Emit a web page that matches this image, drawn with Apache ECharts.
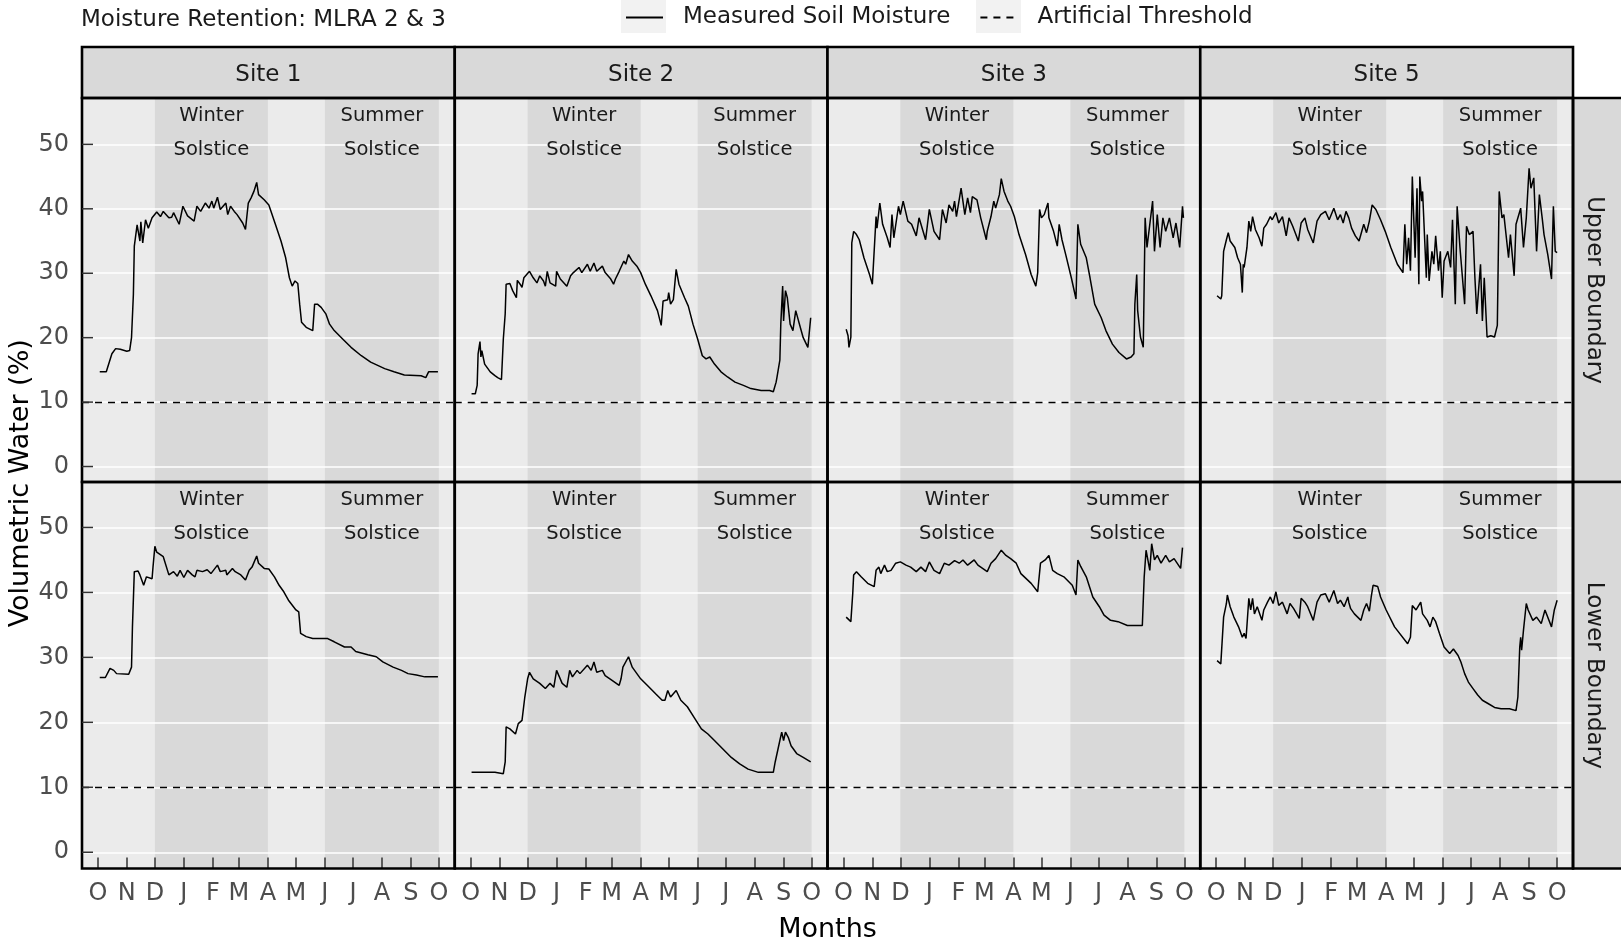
<!DOCTYPE html>
<html>
<head>
<meta charset="utf-8">
<title>Moisture Retention: MLRA 2 & 3</title>
<script src="https://cdn.jsdelivr.net/npm/echarts@6/dist/echarts.min.js"></script>
<style>
  html, body { margin: 0; padding: 0; background: #ffffff; }
  #chart { width: 1621px; height: 943px; }
</style>
</head>
<body>
<div id="chart"></div>
<script>
// Water-year day index: day 0 = 1 October, day 365 = 1 October of the next year
const monthStarts  = [0, 31, 61, 92, 123, 151, 182, 212, 243, 273, 304, 335, 365];
const monthLetters = ['O', 'N', 'D', 'J', 'F', 'M', 'A', 'M', 'J', 'J', 'A', 'S', 'O'];
const yTicks = [0, 10, 20, 30, 40, 50];
const threshold = 10;                 // artificial threshold, volumetric water %
const winterBand = [61, 182];         // 1 Dec – 1 Apr
const summerBand = [243, 365];        // 1 Jun – 1 Oct
const sites  = ['Site 1', 'Site 2', 'Site 3', 'Site 5'];
const depths = ['Upper Boundary', 'Lower Boundary'];

// Measured soil moisture, [day, volumetric water %]
const site1Upper = [[2,14.7],[9,14.7],[15,17.5],[19,18.3],[24,18.2],[31,17.9],[33,17.7],[34,18.0],[36,20.0],[38,26.7],[39,34.2],[42,37.5],[45,35.0],[46,38.0],[48,34.7],[51,38.3],[54,37.0],[58,38.6],[63,39.5],[67,38.8],[70,39.6],[76,38.6],[79,38.7],[81,39.4],[87,37.6],[91,40.4],[96,38.9],[103,38.1],[106,40.4],[110,39.6],[115,40.9],[119,40.1],[122,41.2],[124,40.1],[128,41.8],[131,39.9],[137,40.9],[139,39.1],[142,40.4],[146,39.6],[149,39.1],[155,37.8],[158,36.8],[160,36.5],[161,40.9],[164,41.7],[167,42.7],[170,44.1],[172,42.2],[178,41.4],[183,40.6],[185,40.4],[190,37.6],[196,35.0],[201,32.4],[205,29.3],[208,28.0],[211,28.8],[214,28.4],[216,25.2],[218,22.4],[223,21.6],[230,21.1],[232,25.2],[235,25.2],[239,24.7],[244,23.7],[248,22.1],[253,21.1],[262,19.8],[271,18.5],[282,17.2],[292,16.2],[307,15.2],[317,14.7],[328,14.2],[346,14.1],[348,14.4],[351,13.8],[354,14.7],[364,14.7]];
const site1Lower = [[2,26.9],[8,26.9],[10,27.1],[13,28.3],[17,28.0],[20,27.5],[33,27.4],[34,27.2],[36,28.5],[37,34.7],[39,43.2],[43,43.3],[45,42.7],[49,41.1],[52,42.4],[54,42.7],[58,42.1],[59,43.9],[61,47.1],[63,46.2],[65,46.5],[70,45.5],[72,45.2],[76,42.7],[81,43.2],[85,42.5],[88,43.4],[92,42.3],[96,43.4],[101,42.7],[104,42.4],[106,43.4],[112,43.2],[117,43.5],[121,42.9],[128,44.2],[131,43.2],[137,43.4],[138,42.7],[144,43.7],[147,43.2],[153,42.7],[158,41.9],[160,41.6],[162,43.4],[165,43.9],[170,45.6],[172,44.5],[178,43.7],[183,43.6],[189,42.4],[194,41.1],[199,40.1],[204,38.8],[212,37.3],[215,37.0],[217,33.7],[223,33.2],[230,32.9],[246,32.9],[248,33.0],[253,32.4],[264,31.6],[271,31.6],[276,30.9],[289,30.4],[298,30.1],[305,29.3],[316,28.5],[325,28.0],[332,27.5],[341,27.3],[350,27.0],[364,27.0]];
const site2Upper = [[1,11.3],[5,11.3],[7,12.6],[8,17.5],[10,19.4],[11,17.0],[12,18.0],[15,15.9],[21,14.7],[26,14.1],[29,13.8],[33,13.5],[35,19.8],[37,23.7],[38,28.3],[42,28.4],[45,27.3],[49,26.2],[50,28.9],[53,28.3],[55,27.8],[57,29.3],[59,29.6],[63,30.3],[67,29.3],[71,28.5],[74,29.6],[78,28.8],[80,28.0],[82,30.3],[85,28.5],[91,28.0],[92,30.3],[96,29.1],[103,28.0],[107,29.6],[110,30.1],[116,30.9],[119,30.1],[125,31.4],[128,30.3],[132,31.6],[135,30.3],[141,31.1],[144,30.1],[150,29.1],[153,28.3],[155,29.1],[159,30.3],[160,30.1],[164,31.9],[166,31.4],[169,32.9],[173,31.9],[178,31.1],[182,30.1],[187,28.3],[193,26.5],[200,24.2],[204,21.9],[206,25.7],[211,25.9],[212,27.0],[214,25.2],[217,25.9],[220,30.6],[223,28.3],[229,26.2],[233,24.9],[238,22.1],[243,19.8],[248,17.2],[252,16.7],[256,17.0],[261,15.9],[268,14.7],[275,13.9],[283,13.1],[292,12.6],[300,12.1],[311,11.8],[320,11.8],[324,11.6],[327,13.1],[328,13.9],[331,16.5],[332,22.1],[334,28.0],[335,22.6],[337,27.3],[339,26.2],[342,22.1],[345,21.1],[348,24.2],[351,22.6],[356,20.0],[361,18.5],[364,23.1]];
const site2Lower = [[1,12.3],[26,12.3],[27,12.1],[35,12.1],[37,13.9],[38,19.3],[42,19.0],[48,18.2],[51,19.8],[55,20.3],[56,20.0],[58,23.9],[61,26.7],[63,27.7],[67,26.7],[74,26.0],[80,25.2],[85,26.0],[89,25.4],[92,28.0],[98,26.0],[103,25.4],[106,28.0],[109,27.0],[114,28.0],[117,27.5],[125,28.8],[129,28.0],[132,29.3],[135,27.7],[141,28.0],[144,27.2],[151,26.5],[159,25.7],[161,26.7],[163,28.5],[169,30.1],[173,28.5],[177,27.7],[182,26.7],[189,25.7],[198,24.4],[205,23.4],[208,23.4],[211,24.9],[214,23.9],[220,24.9],[225,23.4],[232,22.4],[239,20.8],[247,19.0],[254,18.2],[261,17.2],[270,15.9],[279,14.6],[288,13.6],[297,12.8],[308,12.3],[324,12.3],[326,13.9],[328,14.1],[331,17.2],[333,18.5],[335,17.2],[337,18.5],[340,17.7],[343,16.4],[349,15.2],[356,14.6],[364,13.9]];
const site3Upper = [[3,21.3],[5,20.3],[6,18.5],[8,20.1],[9,34.7],[11,36.5],[14,36.0],[17,35.2],[22,32.4],[28,29.8],[31,28.3],[32,28.5],[35,38.8],[36,37.0],[39,40.9],[42,37.6],[47,35.5],[50,34.0],[52,39.1],[54,35.5],[59,40.4],[61,39.1],[64,41.2],[69,38.1],[73,37.6],[78,35.8],[81,38.6],[88,35.2],[92,39.9],[97,36.5],[103,35.2],[106,39.9],[110,37.8],[113,40.6],[117,39.6],[119,41.2],[121,38.8],[126,43.2],[130,39.1],[133,41.7],[136,39.4],[138,41.9],[143,41.4],[147,38.6],[153,35.2],[154,36.5],[158,38.8],[161,41.2],[163,40.1],[167,42.2],[169,44.7],[172,42.7],[176,41.2],[179,40.4],[183,38.8],[188,36.0],[195,32.9],[201,29.8],[206,28.0],[208,30.1],[210,39.9],[212,38.6],[215,39.1],[219,40.9],[220,38.6],[225,36.5],[229,34.2],[231,37.6],[234,35.2],[238,32.9],[244,29.3],[249,26.0],[251,37.6],[254,34.5],[260,32.4],[264,29.3],[269,25.2],[276,23.1],[281,21.1],[288,19.0],[295,17.7],[303,16.7],[308,17.0],[311,17.5],[312,25.2],[314,29.8],[315,24.2],[318,20.1],[321,18.5],[323,38.6],[325,34.0],[331,41.2],[333,33.4],[336,39.1],[339,34.0],[342,38.6],[345,36.5],[349,38.6],[353,35.5],[356,37.8],[360,34.0],[363,40.4],[364,38.6]];
const site3Lower = [[3,36.2],[8,35.5],[9,35.2],[10,39.8],[11,42.7],[14,43.2],[19,42.4],[26,41.4],[33,40.9],[35,43.4],[38,43.9],[40,42.9],[44,44.2],[47,43.2],[51,43.4],[56,44.5],[61,44.7],[67,44.2],[72,43.9],[78,43.2],[83,43.9],[88,43.2],[92,44.7],[97,43.4],[103,42.9],[108,44.5],[113,44.2],[119,44.9],[124,44.5],[128,45.0],[133,44.2],[140,45.0],[144,44.2],[154,43.2],[158,44.5],[163,45.2],[169,46.5],[174,45.7],[179,45.2],[185,44.5],[190,42.9],[201,41.4],[208,40.1],[211,44.5],[216,45.0],[220,45.7],[224,43.4],[229,42.9],[236,42.4],[245,41.1],[249,39.6],[251,45.0],[254,44.0],[260,42.4],[267,39.3],[274,37.8],[279,36.5],[286,35.7],[294,35.5],[304,34.9],[320,34.9],[322,42.4],[324,46.5],[328,43.4],[330,47.5],[333,45.0],[336,45.7],[340,44.5],[345,45.7],[349,44.7],[354,45.2],[361,43.7],[363,46.9]];
const site5Upper = [[1,26.5],[5,26.0],[6,26.5],[8,33.4],[11,35.2],[13,36.3],[15,35.0],[20,34.0],[23,32.4],[26,31.4],[28,27.0],[29,31.4],[30,30.9],[33,34.0],[35,38.1],[37,36.5],[39,38.8],[42,36.8],[46,35.5],[49,34.2],[51,37.0],[54,37.6],[58,38.8],[60,38.3],[64,39.4],[67,37.8],[71,38.8],[75,35.8],[78,38.6],[82,37.3],[88,35.0],[91,37.8],[95,38.6],[98,36.8],[104,34.7],[108,38.1],[112,39.1],[117,39.6],[121,38.3],[126,40.1],[130,38.3],[133,39.1],[136,37.8],[139,39.6],[142,38.6],[145,37.0],[149,35.8],[153,35.0],[158,37.6],[161,36.3],[164,38.1],[167,40.6],[171,39.9],[176,38.3],[181,36.5],[187,34.0],[194,31.4],[200,30.1],[202,37.6],[204,31.4],[206,35.5],[208,30.4],[210,45.0],[213,32.4],[215,43.2],[217,28.3],[218,45.0],[220,41.2],[221,42.7],[225,29.3],[226,36.0],[228,28.8],[231,33.4],[233,31.4],[235,35.8],[238,30.4],[240,33.4],[242,26.2],[244,31.9],[248,33.4],[251,30.9],[253,38.3],[256,25.2],[258,40.4],[261,34.0],[266,25.2],[268,37.3],[271,36.0],[275,36.5],[277,29.3],[279,23.7],[283,31.4],[285,22.6],[287,29.3],[290,20.1],[294,20.3],[298,20.1],[301,21.9],[303,42.7],[306,38.6],[308,39.1],[313,32.4],[315,36.0],[319,29.6],[321,37.6],[326,40.1],[329,34.0],[332,38.6],[335,46.3],[337,43.2],[340,44.8],[343,33.4],[346,42.2],[349,38.6],[351,36.0],[355,32.9],[359,29.1],[361,40.4],[363,33.4],[365,33.2]];
const site5Lower = [[1,29.5],[5,29.0],[7,29.3],[8,36.2],[11,38.3],[12,39.6],[15,37.8],[19,36.2],[24,34.7],[28,33.1],[30,33.7],[32,32.9],[33,34.9],[35,39.1],[37,37.3],[39,39.1],[41,36.7],[44,37.8],[49,35.7],[51,37.3],[55,38.5],[58,39.3],[61,38.3],[64,40.1],[67,38.0],[71,38.5],[76,36.7],[79,38.3],[83,37.5],[89,36.0],[91,39.1],[95,38.5],[98,37.8],[104,35.7],[108,38.5],[112,39.6],[117,39.8],[121,38.5],[126,40.3],[130,38.3],[133,38.8],[137,37.8],[141,39.3],[142,38.5],[144,37.5],[148,36.7],[155,35.7],[158,37.3],[161,38.3],[164,37.1],[166,39.3],[168,41.1],[173,40.9],[176,39.3],[182,37.3],[191,34.7],[205,32.1],[208,33.1],[210,38.0],[214,37.3],[219,38.5],[221,36.7],[226,35.7],[229,34.7],[232,36.2],[235,35.5],[239,33.7],[244,31.6],[250,30.6],[254,31.3],[259,30.3],[262,29.3],[266,27.5],[270,26.2],[275,25.2],[280,24.2],[285,23.4],[291,22.9],[298,22.3],[305,22.1],[314,22.1],[321,21.8],[323,23.9],[325,31.6],[326,33.1],[327,31.1],[329,34.2],[332,38.3],[334,37.3],[339,35.7],[343,36.2],[348,35.2],[352,37.3],[354,37.3],[359,34.7],[362,37.3],[365,38.8]];

const panelData = [
  [site1Upper, site2Upper, site3Upper, site5Upper],
  [site1Lower, site2Lower, site3Lower, site5Lower]
];

// ---- layout ----
const FONT = '"DejaVu Sans", Verdana, sans-serif';
const PANEL_LEFT = 82;
const PANEL_W = 372.75;
const STRIP_TOP = 47, STRIP_H = 51;
const RIGHT_STRIP_W = 50;
const BORDER_W = 2.6;
const TICK_LEN = 11;
const rowLayout = [
  { top: 98,  height: 384,   min: -2.4, max: 57.2 },
  { top: 482, height: 386.5, min: -2.5, max: 57.0 }
];
const X_MIN = -17, X_MAX = 382;

const grids = [], xAxes = [], yAxes = [], series = [], graphics = [];

rowLayout.forEach((row, r) => {
  sites.forEach((site, c) => {
    const idx = r * sites.length + c;
    const left = PANEL_LEFT + c * PANEL_W;
    grids.push({
      left: left, top: row.top, width: PANEL_W, height: row.height,
      show: true, backgroundColor: '#ebebeb', borderWidth: 0, containLabel: false
    });
    xAxes.push({
      type: 'value', gridIndex: idx, min: X_MIN, max: X_MAX, position: 'bottom', z: 3,
      axisLine: { show: false, onZero: false },
      splitLine: { show: false },
      axisTick: { show: r === 1, inside: true, length: TICK_LEN, customValues: monthStarts,
                  lineStyle: { color: '#333333', width: 1.5 } },
      axisLabel: { show: r === 1, customValues: monthStarts, margin: 13,
                   formatter: v => monthLetters[monthStarts.indexOf(v)],
                   color: '#4d4d4d', fontSize: 24, fontFamily: FONT }
    });
    yAxes.push({
      type: 'value', gridIndex: idx, min: row.min, max: row.max, position: 'left', z: 3,
      axisLine: { show: false, onZero: false },
      splitLine: { show: false },
      axisTick: { show: false },
      axisLabel: { show: c === 0, customValues: yTicks, margin: 13,
                   color: '#4d4d4d', fontSize: 24, fontFamily: FONT }
    });

    // white grid lines and the dashed threshold
    const gridLines = yTicks.map(v => ({
      yAxis: v, lineStyle: { color: '#ffffff', width: 1.5, type: 'solid' }
    }));
    series.push({
      name: 'Artificial Threshold', type: 'line',
      xAxisIndex: idx, yAxisIndex: idx, data: [],
      symbol: 'none', silent: true,
      itemStyle: { color: '#000000' },
      lineStyle: { color: '#000000', width: 1.3, type: [7, 6] },
      markLine: {
        silent: true, symbol: 'none', z: 1, label: { show: false },
        data: gridLines.concat([{
          yAxis: threshold, lineStyle: { color: '#000000', width: 1.3, type: [7, 6] }
        }])
      }
    });

    // measured moisture with the solstice bands behind it
    series.push({
      name: 'Measured Soil Moisture', type: 'line',
      xAxisIndex: idx, yAxisIndex: idx,
      data: panelData[r][c],
      symbol: 'none', showSymbol: false, silent: true, z: 4,
      itemStyle: { color: '#000000' },
      lineStyle: { color: '#000000', width: 1.5 },
      markArea: {
        silent: true, z: 1,
        itemStyle: { color: 'rgba(0,0,0,0.075)' },
        label: { show: true, position: 'insideTop', distance: 1,
                 color: '#1a1a1a', fontSize: 19.5, lineHeight: 34, fontFamily: FONT },
        data: [
          [{ name: 'Winter\nSolstice', xAxis: winterBand[0] }, { xAxis: winterBand[1] }],
          [{ name: 'Summer\nSolstice', xAxis: summerBand[0] }, { xAxis: summerBand[1] }]
        ]
      }
    });

    // panel border
    graphics.push({
      type: 'rect', z: 20, silent: true,
      shape: { x: left, y: row.top, width: PANEL_W, height: row.height },
      style: { fill: 'none', stroke: '#000000', lineWidth: BORDER_W }
    });
  });
});

function label(text, x, y, size, rotation, color) {
  return {
    type: 'text', x: x, y: y, rotation: rotation || 0, z: 21, silent: true,
    style: { text: text, x: 0, y: 0, fill: color || '#1a1a1a',
             font: size + 'px ' + FONT,
             align: 'center', verticalAlign: 'middle',
             textAlign: 'center', textVerticalAlign: 'middle' }
  };
}

// facet strips along the top
sites.forEach((site, c) => {
  const left = PANEL_LEFT + c * PANEL_W;
  graphics.push({
    type: 'rect', z: 19, silent: true,
    shape: { x: left, y: STRIP_TOP, width: PANEL_W, height: STRIP_H },
    style: { fill: '#d9d9d9', stroke: '#000000', lineWidth: BORDER_W }
  });
  graphics.push(label(site, left + PANEL_W / 2, STRIP_TOP + STRIP_H / 2 + 3, 23));
});

// facet strips on the right
const rightX = PANEL_LEFT + sites.length * PANEL_W;
rowLayout.forEach((row, r) => {
  graphics.push({
    type: 'rect', z: 19, silent: true,
    shape: { x: rightX, y: row.top, width: RIGHT_STRIP_W, height: row.height },
    style: { fill: '#d9d9d9', stroke: '#000000', lineWidth: BORDER_W }
  });
  graphics.push(label(depths[r], rightX + 21, row.top + row.height / 2, 23, -Math.PI / 2));
});

// axis titles
const plotBottom = rowLayout[1].top + rowLayout[1].height;
graphics.push(label('Volumetric Water (%)', 21, (rowLayout[0].top + plotBottom) / 2, 27, Math.PI / 2, '#000000'));
graphics.push(label('Months', PANEL_LEFT + sites.length * PANEL_W / 2, 930, 27, 0, '#000000'));

// legend key backgrounds
[621, 976].forEach(x => {
  graphics.push({
    type: 'rect', z: 0, silent: true,
    shape: { x: x, y: 0, width: 45, height: 33 },
    style: { fill: '#f2f2f2' }
  });
});

const chart = echarts.init(document.getElementById('chart'), null, { renderer: 'canvas' });
chart.setOption({
  animation: false,
  backgroundColor: '#ffffff',
  title: {
    text: 'Moisture Retention: MLRA 2 & 3',
    left: 81, top: 9, padding: 0,
    textStyle: { fontSize: 23, fontWeight: 'normal', fontFamily: FONT, color: '#1a1a1a' }
  },
  legend: {
    left: 625, top: 6, padding: 0,
    itemWidth: 37, itemHeight: 22, itemGap: 29,
    selectedMode: false,
    itemStyle: { opacity: 0, borderWidth: 0 },
    data: ['Measured Soil Moisture', 'Artificial Threshold'],
    textStyle: { fontSize: 23, fontFamily: FONT, color: '#1a1a1a', padding: [0, 0, 0, 15] }
  },
  grid: grids,
  xAxis: xAxes,
  yAxis: yAxes,
  series: series,
  graphic: { elements: graphics }
});

// inward y ticks on the first column, placed through each panel's own scale
const yTickMarks = [];
rowLayout.forEach((row, r) => {
  const gridIndex = r * sites.length;
  yTicks.forEach((v, k) => {
    const p = chart.convertToPixel({ gridIndex: gridIndex }, [X_MIN, v]);
    yTickMarks.push({
      type: 'line', id: 'ytick-' + r + '-' + k, z: 21, silent: true,
      shape: { x1: p[0], y1: p[1], x2: p[0] + TICK_LEN, y2: p[1] },
      style: { stroke: '#333333', lineWidth: 1.5 }
    });
  });
});
chart.setOption({ graphic: { elements: graphics.concat(yTickMarks) } });
</script>
</body>
</html>
